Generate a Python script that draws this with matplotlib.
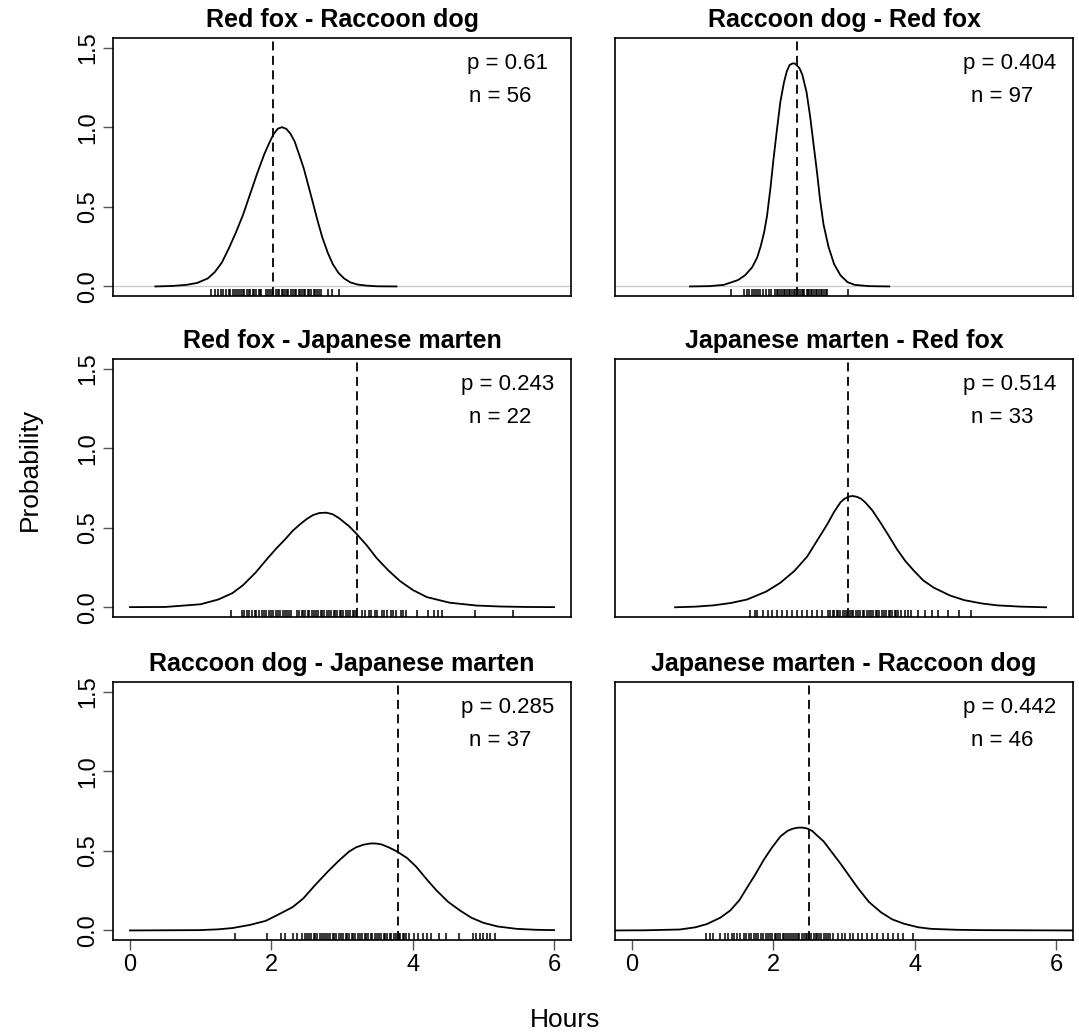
import matplotlib.pyplot as plt

# panel order: row by row, left then right
titles = ["Red fox - Raccoon dog", "Raccoon dog - Red fox",
          "Red fox - Japanese marten", "Japanese marten - Red fox",
          "Raccoon dog - Japanese marten", "Japanese marten - Raccoon dog"]
p_values = ["0.61", "0.404", "0.243", "0.514", "0.285", "0.442"]
n_values = [56, 97, 22, 33, 37, 46]
cut_hours = [2.03, 2.34, 3.21, 3.06, 3.79, 2.51]

# density curves (hours, probability)
rf_rd_x = [0.36, 0.6, 0.8, 0.95, 1.1, 1.2, 1.3, 1.4, 1.5, 1.6, 1.7, 1.8, 1.9, 1.97, 2.03,
           2.09, 2.15, 2.21, 2.27, 2.33, 2.4, 2.46, 2.52, 2.58, 2.65, 2.72, 2.8, 2.87, 2.95,
           3.03, 3.12, 3.22, 3.35, 3.5, 3.77]
rf_rd_y = [0.0, 0.003, 0.01, 0.022, 0.05, 0.09, 0.15, 0.24, 0.34, 0.45, 0.58, 0.71, 0.83,
           0.9, 0.955, 0.99, 1.0, 0.99, 0.96, 0.91, 0.82, 0.74, 0.64, 0.54, 0.42, 0.31, 0.21,
           0.14, 0.085, 0.05, 0.025, 0.012, 0.005, 0.001, 0.0]

rd_rf_x = [0.82, 1.1, 1.3, 1.5, 1.6, 1.7, 1.77, 1.82, 1.87, 1.91, 1.96, 2.0, 2.05, 2.1, 2.15,
           2.19, 2.23, 2.27, 2.3, 2.33, 2.37, 2.41, 2.47, 2.52, 2.57, 2.62, 2.66, 2.71, 2.78,
           2.86, 2.95, 3.05, 3.15, 3.35, 3.64]
rd_rf_y = [0.0, 0.002, 0.01, 0.04, 0.07, 0.12, 0.18, 0.25, 0.34, 0.44, 0.62, 0.79, 0.98, 1.16,
           1.28, 1.35, 1.39, 1.40, 1.40, 1.39, 1.37, 1.33, 1.22, 1.07, 0.89, 0.71, 0.55, 0.39,
           0.25, 0.14, 0.07, 0.027, 0.01, 0.002, 0.0]

rf_jm_x = [0.0, 0.5, 1.0, 1.25, 1.45, 1.6, 1.78, 1.95, 2.07, 2.2, 2.3, 2.4, 2.5, 2.59, 2.68,
           2.78, 2.87, 2.96, 3.03, 3.1, 3.2, 3.35, 3.49, 3.65, 3.82, 4.0, 4.2, 4.52, 4.9, 5.23,
           5.6, 6.0]
rf_jm_y = [0.002, 0.003, 0.02, 0.05, 0.09, 0.14, 0.22, 0.31, 0.37, 0.43, 0.48, 0.52, 0.555,
           0.58, 0.593, 0.595, 0.585, 0.56, 0.535, 0.51, 0.465, 0.39, 0.31, 0.235, 0.166, 0.11,
           0.065, 0.03, 0.012, 0.006, 0.003, 0.002]

jm_rf_x = [0.61, 0.9, 1.15, 1.4, 1.63, 1.9, 2.1, 2.3, 2.48, 2.62, 2.76, 2.86, 2.95, 3.0, 3.06,
           3.12, 3.18, 3.24, 3.3, 3.4, 3.52, 3.64, 3.75, 3.87, 3.99, 4.12, 4.27, 4.5, 4.7, 4.95,
           5.17, 5.5, 5.86]
jm_rf_y = [0.001, 0.005, 0.013, 0.028, 0.05, 0.1, 0.155, 0.23, 0.32, 0.42, 0.52, 0.6, 0.66,
           0.68, 0.695, 0.7, 0.695, 0.683, 0.66, 0.61, 0.53, 0.445, 0.365, 0.29, 0.23, 0.17,
           0.124, 0.075, 0.046, 0.025, 0.013, 0.005, 0.001]

rd_jm_x = [0.0, 0.5, 0.98, 1.25, 1.45, 1.7, 1.92, 2.1, 2.3, 2.45, 2.63, 2.8, 2.96, 3.1, 3.2,
           3.3, 3.4, 3.48, 3.56, 3.67, 3.78, 3.92, 4.05, 4.2, 4.34, 4.5, 4.67, 4.83, 5.0, 5.2,
           5.47, 5.75, 6.0]
rd_jm_y = [0.0, 0.001, 0.002, 0.007, 0.015, 0.035, 0.06, 0.1, 0.146, 0.2, 0.29, 0.37, 0.44,
           0.495, 0.522, 0.538, 0.546, 0.546, 0.54, 0.52, 0.495, 0.455, 0.4, 0.32, 0.25, 0.18,
           0.125, 0.08, 0.048, 0.025, 0.01, 0.004, 0.002]

jm_rd_x = [-0.24, 0.2, 0.68, 0.9, 1.06, 1.25, 1.39, 1.52, 1.63, 1.75, 1.86, 1.98, 2.1, 2.2,
           2.27, 2.34, 2.41, 2.48, 2.55, 2.61, 2.71, 2.83, 2.95, 3.07, 3.19, 3.35, 3.52, 3.68,
           3.85, 4.05, 4.23, 4.6, 4.94, 5.5, 6.24]
jm_rd_y = [0.0, 0.001, 0.006, 0.02, 0.04, 0.08, 0.125, 0.19, 0.27, 0.355, 0.44, 0.52, 0.59,
           0.625, 0.638, 0.645, 0.646, 0.64, 0.625, 0.6, 0.56, 0.49, 0.42, 0.345, 0.27, 0.18,
           0.115, 0.07, 0.042, 0.02, 0.01, 0.004, 0.002, 0.001, 0.0]

# rug marks (hours)
rf_rd_rug = [1.15, 1.21, 1.25, 1.29, 1.32, 1.36, 1.40, 1.42, 1.46, 1.48, 1.52, 1.54, 1.57,
             1.60, 1.62, 1.66, 1.68, 1.70, 1.74, 1.76, 1.78, 1.82, 1.84, 1.86, 1.93, 1.95,
             1.98, 2.01, 2.03, 2.07, 2.09, 2.11, 2.15, 2.17, 2.20, 2.22, 2.24, 2.28, 2.30,
             2.33, 2.35, 2.39, 2.41, 2.43, 2.46, 2.48, 2.52, 2.54, 2.56, 2.60, 2.62, 2.65,
             2.67, 2.70, 2.80, 2.86, 2.96]
rd_rf_rug = [1.40, 1.59, 1.63, 1.66, 1.70, 1.72, 1.76, 1.79, 1.81, 1.85, 1.89, 1.94, 1.97,
             2.02, 2.05, 2.07, 2.10, 2.12, 2.15, 2.17, 2.19, 2.22, 2.24, 2.26, 2.29, 2.31,
             2.33, 2.35, 2.38, 2.40, 2.42, 2.44, 2.47, 2.49, 2.51, 2.53, 2.55, 2.58, 2.60,
             2.62, 2.64, 2.67, 2.69, 2.71, 2.74, 2.76, 3.06]
rf_jm_rug = [1.43, 1.59, 1.62, 1.66, 1.69, 1.72, 1.77, 1.79, 1.82, 1.87, 1.89, 1.92, 1.97,
             1.99, 2.02, 2.06, 2.09, 2.12, 2.16, 2.19, 2.22, 2.25, 2.28, 2.36, 2.39, 2.43,
             2.45, 2.48, 2.52, 2.54, 2.57, 2.61, 2.63, 2.66, 2.70, 2.72, 2.75, 2.79, 2.81,
             2.84, 2.88, 2.90, 2.93, 2.97, 2.99, 3.02, 3.06, 3.08, 3.11, 3.15, 3.17, 3.20,
             3.29, 3.33, 3.38, 3.41, 3.46, 3.50, 3.56, 3.59, 3.63, 3.69, 3.72, 3.77, 3.83,
             3.87, 3.91, 4.06, 4.21, 4.30, 4.36, 4.41, 4.88, 5.42]
jm_rf_rug = [1.67, 1.74, 1.77, 1.86, 1.93, 1.98, 2.05, 2.12, 2.19, 2.26, 2.33, 2.41, 2.48,
             2.55, 2.62, 2.69, 2.77, 2.80, 2.84, 2.86, 2.90, 2.92, 2.95, 2.99, 3.01, 3.04,
             3.08, 3.11, 3.13, 3.17, 3.20, 3.23, 3.27, 3.29, 3.32, 3.36, 3.38, 3.41, 3.45,
             3.47, 3.50, 3.54, 3.56, 3.59, 3.63, 3.65, 3.68, 3.72, 3.74, 3.77, 3.80, 3.86,
             3.90, 3.95, 4.05, 4.15, 4.24, 4.33, 4.47, 4.62, 4.79]
rd_jm_rug = [1.48, 1.94, 2.13, 2.20, 2.30, 2.36, 2.44, 2.47, 2.51, 2.53, 2.56, 2.60, 2.62,
             2.65, 2.69, 2.71, 2.74, 2.78, 2.80, 2.83, 2.87, 2.89, 2.92, 2.96, 2.98, 3.01,
             3.05, 3.07, 3.10, 3.14, 3.16, 3.19, 3.23, 3.25, 3.28, 3.32, 3.34, 3.37, 3.41,
             3.43, 3.46, 3.50, 3.52, 3.55, 3.59, 3.61, 3.64, 3.68, 3.70, 3.73, 3.77, 3.80,
             3.82, 3.86, 3.88, 3.91, 3.95, 4.02, 4.08, 4.14, 4.20, 4.26, 4.37, 4.47, 4.65,
             4.85, 4.90, 4.95, 5.00, 5.05, 5.10, 5.16]
jm_rd_rug = [1.05, 1.10, 1.15, 1.25, 1.32, 1.36, 1.41, 1.44, 1.49, 1.53, 1.58, 1.61, 1.65,
             1.68, 1.72, 1.75, 1.79, 1.82, 1.85, 1.89, 1.92, 1.95, 1.98, 2.02, 2.04, 2.07,
             2.10, 2.13, 2.15, 2.18, 2.21, 2.24, 2.26, 2.29, 2.32, 2.35, 2.37, 2.40, 2.43,
             2.46, 2.48, 2.51, 2.54, 2.57, 2.60, 2.62, 2.65, 2.68, 2.71, 2.74, 2.77, 2.80,
             2.85, 2.91, 2.97, 3.02, 3.08, 3.13, 3.20, 3.26, 3.33, 3.40, 3.47, 3.55, 3.62,
             3.70, 3.76, 3.84, 3.97]

curves = [(rf_rd_x, rf_rd_y), (rd_rf_x, rd_rf_y), (rf_jm_x, rf_jm_y),
          (jm_rf_x, jm_rf_y), (rd_jm_x, rd_jm_y), (jm_rd_x, jm_rd_y)]
rugs = [rf_rd_rug, rd_rf_rug, rf_jm_rug, jm_rf_rug, rd_jm_rug, jm_rd_rug]

plt.rcParams['font.family'] = ['Liberation Sans', 'DejaVu Sans']

fig = plt.figure(figsize=(10.79, 10.35), dpi=100)
lefts = [113 / 1079, 615 / 1079]
bottoms = [1 - 296 / 1035, 1 - 617 / 1035, 1 - 940 / 1035]
w, h = 458 / 1079, 258 / 1035

for i in range(6):
    r, c = divmod(i, 2)
    ax = fig.add_axes([lefts[c], bottoms[r], w, h])
    ax.set_xlim(-0.24, 6.24)
    ax.set_ylim(-0.06, 1.56)
    for s in ax.spines.values():
        s.set_linewidth(1.2)

    if r == 0:
        ax.axhline(0, color='#c8c8c8', lw=0.9, zorder=1)
    ax.plot(curves[i][0], curves[i][1], color='black', lw=1.3, zorder=3,
            solid_joinstyle='round')
    ax.axvline(cut_hours[i], color='black', lw=1.3, ls=(0, (5, 3)), zorder=2)
    ax.vlines(rugs[i], 0, 0.028, transform=ax.get_xaxis_transform(),
              color='black', lw=1.1)

    ax.text(5.34, 1.40, f"p = {p_values[i]}", ha='center', va='center', fontsize=16)
    ax.text(5.24, 1.19, f"n = {n_values[i]}", ha='center', va='center', fontsize=16)
    ax.set_title(titles[i], fontweight='bold', fontsize=18, pad=8)

    ax.tick_params(direction='out', length=7, width=1, color='#555555', labelsize=17, pad=3)
    if c == 0:
        ax.set_yticks([0, 0.5, 1.0, 1.5])
        ax.set_yticklabels(['0.0', '0.5', '1.0', '1.5'], rotation=90, va='center')
    else:
        ax.set_yticks([])
    if r == 2:
        ax.set_xticks([0, 2, 4, 6])
        ax.set_xticklabels(['0', '2', '4', '6'])
    else:
        ax.set_xticks([])

fig.text(0.524, 1 - 1020 / 1035, 'Hours', ha='center', va='center', fontsize=19)
fig.text(30 / 1079, 0.546, 'Probability', ha='center', va='center', rotation=90, fontsize=19)

fig.savefig('out.png', dpi=100)
